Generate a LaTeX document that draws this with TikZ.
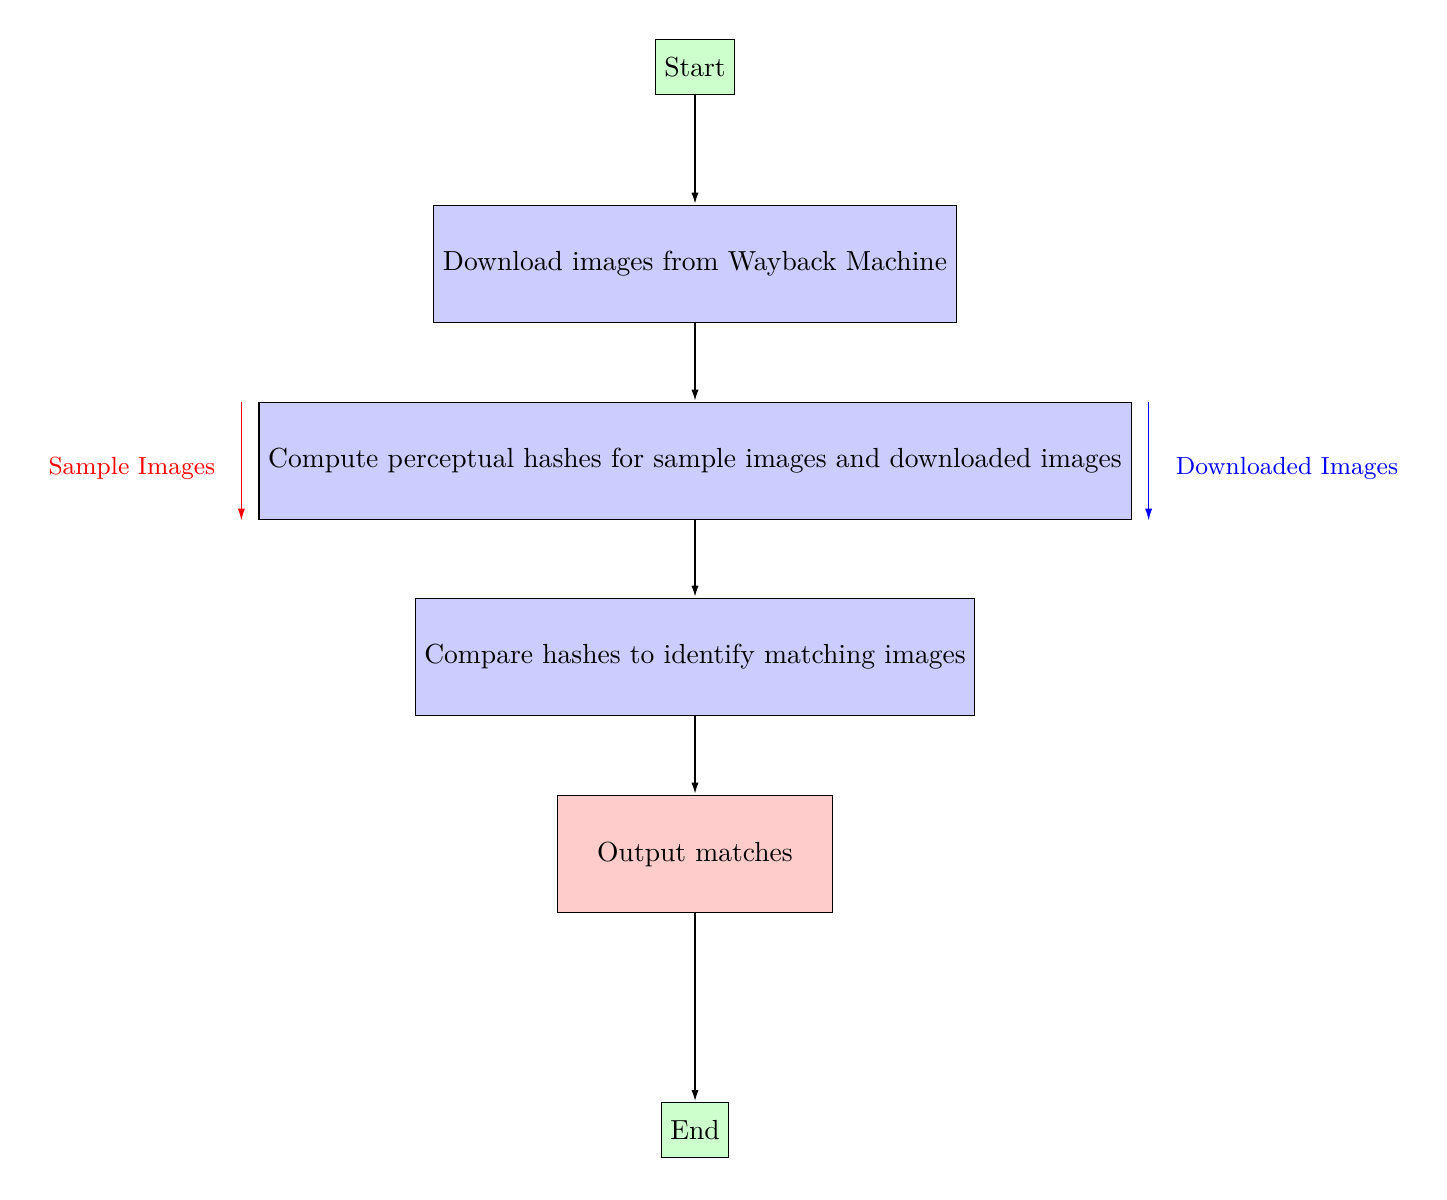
\documentclass[tikz,border=0pt]{standalone}
\usetikzlibrary{arrows.meta}
\begin{document}
\begin{tikzpicture}[x=0.012739cm, y=-0.012739cm,
  termbox/.style={draw, fill=green!20, minimum height=0.7cm, inner sep=0.3333em},
  procbox/.style={draw, fill=blue!20, minimum height=1.5cm, minimum width=3.5cm},
  outbox/.style={draw, fill=red!20, minimum height=1.5cm, minimum width=3.5cm},
  flow/.style={thick, -{Latex[length=4.3pt,width=2.6pt]}},
  side/.style={-{Latex[length=4.3pt,width=2.6pt]}},
  sidelabel/.style={font=\small}]
\useasboundingbox (0,0) rectangle (1447,1199);
\node[termbox] (start) at (695,67) {Start};
\node[procbox] (dl) at (695,264) {Download images from Wayback Machine};
\node[procbox] (hash) at (695,461) {Compute perceptual hashes for sample images and downloaded images};
\node[procbox] (cmp) at (695,657) {Compare hashes to identify matching images};
\node[outbox] (out) at (695,854) {Output matches};
\node[termbox] (end) at (695,1130) {End};
\draw[flow] (start) -- (dl);
\draw[flow] (dl) -- (hash);
\draw[flow] (hash) -- (cmp);
\draw[flow] (cmp) -- (out);
\draw[flow] (out) -- (end);
\coordinate (ls) at ([xshift=-0.217cm]hash.north west);
\coordinate (le) at ([xshift=-0.217cm]hash.south west);
\coordinate (rs) at ([xshift=0.217cm]hash.north east);
\coordinate (re) at ([xshift=0.217cm]hash.south east);
\draw[side, red] (ls) -- (le);
\draw[side, blue] (rs) -- (re);
\node[sidelabel, red, anchor=east] (slab) at (225,468) {Sample Images};
\node[sidelabel, blue, anchor=west] (dlab) at (1166,468) {Downloaded Images};
\end{tikzpicture}
\end{document}
